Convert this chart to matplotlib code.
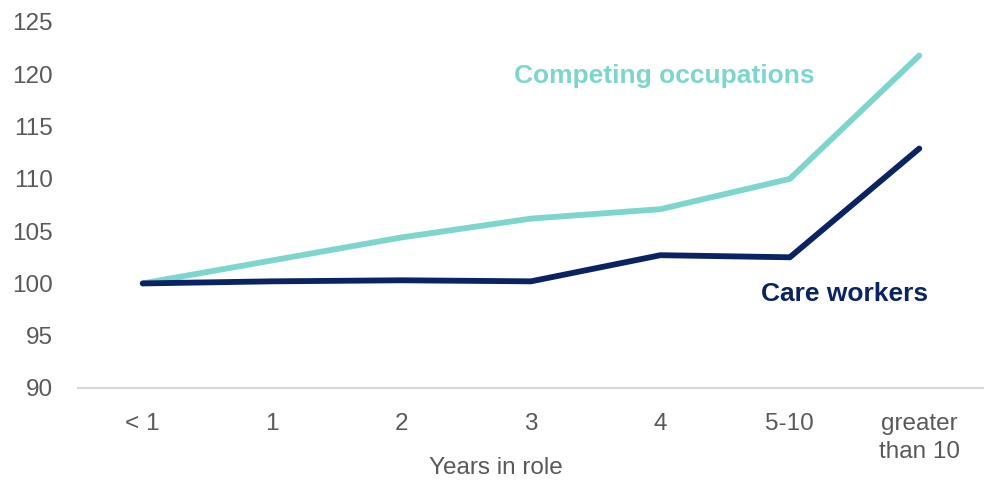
import matplotlib.pyplot as plt

plt.rcParams['font.family'] = ['Liberation Sans', 'DejaVu Sans']

years = ["< 1", "1", "2", "3", "4", "5-10", "greater\nthan 10"]
competing = [100, 102.2, 104.4, 106.2, 107.1, 110.0, 121.8]
care = [100, 100.2, 100.3, 100.2, 102.7, 102.5, 112.9]

teal = "#7dd6cd"
navy = "#0a2463"
grey = "#595959"

fig = plt.figure(figsize=(9.84, 4.83), dpi=100)
ax = fig.add_axes([78 / 984, 95 / 483, 906 / 984, 366 / 483])

x = range(len(years))
ax.plot(x, competing, color=teal, lw=4.2, solid_capstyle="round", solid_joinstyle="round")
ax.plot(x, care, color=navy, lw=4.2, solid_capstyle="round", solid_joinstyle="round")

ax.text(4.03, 119.8, "Competing occupations", color=teal, fontsize=19,
        fontweight="bold", ha="center", va="center")
ax.text(6.07, 98.95, "Care workers", color=navy, fontsize=19,
        fontweight="bold", ha="right", va="center")

ax.set_xlim(-0.5, 6.5)
ax.set_ylim(90, 125)
ax.set_yticks(range(90, 126, 5))
ax.set_xticks(list(x))
ax.set_xticklabels(years, linespacing=1.35)
ax.tick_params(axis="both", length=0, labelsize=17.5, labelcolor=grey)
ax.tick_params(axis="x", pad=18)
ax.tick_params(axis="y", pad=18)
for s in ["top", "right", "left"]:
    ax.spines[s].set_visible(False)
ax.spines["bottom"].set_color("#d9d9d9")
ax.spines["bottom"].set_linewidth(1.5)
ax.set_xlabel("Years in role", fontsize=17.5, color=grey)
ax.xaxis.set_label_coords(0.461, -0.218)
ax.xaxis.label.set_va("center")

fig.savefig("out.png", dpi=100)
